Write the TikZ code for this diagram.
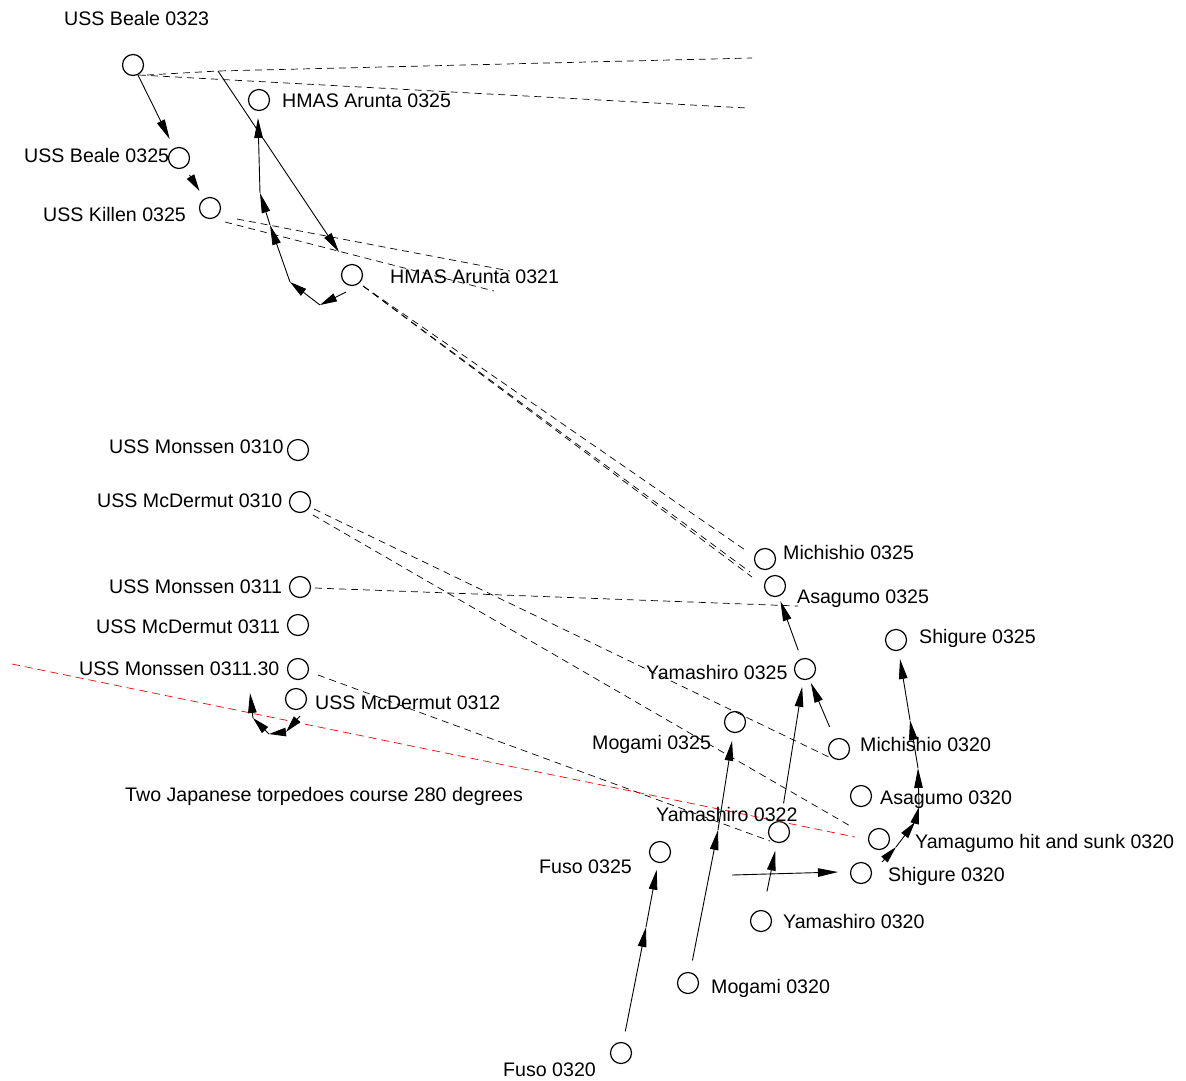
\documentclass[tikz,border=0pt]{standalone}
\usepackage{fontspec}
\setmainfont{Liberation Sans}
\usetikzlibrary{arrows.meta}
\tikzset{
  x=1pt,y=-1pt,
  ship/.style={circle,draw=black,line width=1.2pt,fill=none,minimum size=21pt,inner sep=0pt},
  lbl/.style={anchor=base west,inner sep=0pt,font=\fontsize{19.6pt}{22pt}\selectfont,text=black},
  track/.style={draw=black,line width=0.9pt,-{Triangle[length=20pt,width=8.5pt]}},
  shorttrack/.style={draw=black,line width=0.9pt,-{Triangle[length=17pt,width=8.5pt]}},
  fire/.style={draw=black,line width=0.7pt,dash pattern=on 7pt off 5pt},
  torp/.style={draw=red,line width=0.7pt,dash pattern=on 8pt off 5pt},
}
\begin{document}
\begin{tikzpicture}
\useasboundingbox (0,0) rectangle (1186,1080);
\fill[white] (0,0) rectangle (1186,1080);

% ship positions
\node[ship] (beale23) at (133,65) {};
\node[ship] (beale25) at (179,158) {};
\node[ship] (killen25) at (210,208) {};
\node[ship] (arunta25) at (259,100) {};
\node[ship] (arunta21) at (352,275) {};
\node[ship] (monssen10) at (298,450) {};
\node[ship] (mcdermut10) at (300,502) {};
\node[ship] (monssen11) at (300,587) {};
\node[ship] (mcdermut11) at (298,625) {};
\node[ship] (monssen1130) at (298,669) {};
\node[ship] (mcdermut12) at (296,699) {};
\node[ship] (michishio25) at (765,559) {};
\node[ship] (asagumo25) at (775,586) {};
\node[ship] (shigure25) at (896,640) {};
\node[ship] (yamashiro25) at (805,669) {};
\node[ship] (mogami25) at (735,722) {};
\node[ship] (michishio20) at (839,749) {};
\node[ship] (asagumo20) at (861,796) {};
\node[ship] (yamagumo) at (879,839) {};
\node[ship] (yamashiro22) at (779,832) {};
\node[ship] (fuso25) at (660,852) {};
\node[ship] (shigure20) at (861,873) {};
\node[ship] (yamashiro20) at (761,921) {};
\node[ship] (mogami20) at (688,983) {};
\node[ship] (fuso20) at (621,1053) {};

% free ends and course changes
\coordinate (bA0) at (139,75);
\coordinate (bA1) at (747,108);
\coordinate (bB0) at (147,75);
\coordinate (bJ) at (218,71);
\coordinate (bB1) at (752,58);
\coordinate (aEnd) at (339,252);
\coordinate (kA0) at (225,222);
\coordinate (kA1) at (494,291);
\coordinate (kB0) at (237,219);
\coordinate (kB1) at (510,271);
\coordinate (ar0) at (363,286);
\coordinate (ar1) at (748,552);
\coordinate (ar2) at (752,577);
\coordinate (ar4) at (750,572);
\coordinate (mc0) at (314,509);
\coordinate (mc1) at (833,759);
\coordinate (mc2) at (313,515);
\coordinate (mc3) at (852,827);
\coordinate (mo0) at (315,588);
\coordinate (mo1) at (798,606);
\coordinate (mo2) at (318,675);
\coordinate (mo3) at (770,841);
\coordinate (tor0) at (12,664);
\coordinate (tor1) at (855,837);
\coordinate (w1) at (346,292);
\coordinate (w2) at (320,305);
\coordinate (w3) at (290,282);
\coordinate (w4) at (270,225);
\coordinate (w5) at (260,193);
\coordinate (w6) at (258,118);
\coordinate (m1) at (718,830);
\coordinate (f1) at (646,927);
\coordinate (sp0) at (732,875);
\coordinate (sp1) at (838,872);
\coordinate (s1) at (882,862);
\coordinate (s2) at (896,847);
\coordinate (s2b) at (915,822);
\coordinate (s3) at (919,807);
\coordinate (s4) at (918,768);
\coordinate (s5) at (910,720);
\coordinate (s6) at (900,659);
\coordinate (d1) at (300,716);
\coordinate (d2) at (286,732);
\coordinate (d3) at (269,734);
\coordinate (d4) at (253,718);
\coordinate (d5) at (250,693);

% gunfire lines
\path[fire] (bA0) -- (bA1);
\path[fire] (bB0) -- (bJ) -- (bB1);
\path[fire] (kA0) -- (kA1);
\path[fire] (kB0) -- (kB1);
\path[fire] (ar0) -- (ar1);
\path[fire] (ar0) -- (ar2);
\path[fire] (ar0) -- (ar4);
\path[fire] (mc0) -- (mc1);
\path[fire] (mc2) -- (mc3);
\path[fire] (mo0) -- (mo1);
\path[fire] (mo2) -- (mo3);
\path[torp] (tor0) -- (tor1);

% ship tracks
\path[track,shorten <=11pt,shorten >=21pt] (beale23.center) -- (beale25.center);
\path[shorttrack,shorten <=20pt,shorten >=20pt] (beale25.center) -- (killen25.center);
\path[track] (bJ) -- (aEnd);
\path[shorttrack] (w1) -- (w2);
\path[shorttrack] (w2) -- (w3);
\path[track] (w3) -- (w4);
\path[track] (w4) -- (w5);
\path[track] (w5) -- (w6);
\path[track,shorten <=20pt,shorten >=16pt] (yamashiro25.center) -- (asagumo25.center);
\path[track,shorten <=24pt,shorten >=15pt] (michishio20.center) -- (yamashiro25.center);
\path[track,shorten <=29pt,shorten >=18pt] (yamashiro22.center) -- (yamashiro25.center);
\path[track,shorten <=30pt,shorten >=19pt] (yamashiro20.center) -- (yamashiro22.center);
\path[track,shorten <=23pt] (mogami20.center) -- (m1);
\path[track,shorten >=19pt] (m1) -- (mogami25.center);
\path[track,shorten <=22pt] (fuso20.center) -- (f1);
\path[track,shorten >=18pt] (f1) -- (fuso25.center);
\path[track] (sp0) -- (sp1);
\path[shorttrack] (s1) -- (s2);
\path[shorttrack] (s2) -- (s2b);
\path[shorttrack] (s2b) -- (s3);
\path[track] (s3) -- (s4);
\path[track] (s4) -- (s5);
\path[track] (s5) -- (s6);
\path[shorttrack] (d1) -- (d2);
\path[shorttrack] (d2) -- (d3);
\path[shorttrack] (d3) -- (d4);
\path[track] (d4) -- (d5);

% labels
\node[lbl] (tBeale23) at (64,25) {USS Beale 0323};
\node[lbl] (tBeale25) at (24,162) {USS Beale 0325};
\node[lbl] (tKillen) at (43,221) {USS Killen 0325};
\node[lbl] (tArunta25) at (282,107) {HMAS Arunta 0325};
\node[lbl] (tArunta21) at (390,283) {HMAS Arunta 0321};
\node[lbl] (tMonssen10) at (109,453) {USS Monssen 0310};
\node[lbl] (tMcD10) at (97,507) {USS McDermut 0310};
\node[lbl] (tMonssen11) at (109,593) {USS Monssen 0311};
\node[lbl] (tMcD11) at (96,633) {USS McDermut 0311};
\node[lbl] (tMonssen1130) at (79,675) {USS Monssen 0311.30};
\node[lbl] (tMcD12) at (315,709) {USS McDermut 0312};
\node[lbl] (tTorp) at (125,801) {Two Japanese torpedoes course 280 degrees};
\node[lbl] (tMichi25) at (783,559) {Michishio 0325};
\node[lbl] (tAsa25) at (797,603) {Asagumo 0325};
\node[lbl] (tShi25) at (919,643) {Shigure 0325};
\node[lbl] (tYam25) at (646,679) {Yamashiro 0325};
\node[lbl] (tMog25) at (592,749) {Mogami 0325};
\node[lbl] (tMichi20) at (860,751) {Michishio 0320};
\node[lbl] (tAsa20) at (880,804) {Asagumo 0320};
\node[lbl] (tYamagumo) at (915,848) {Yamagumo hit and sunk 0320};
\node[lbl] (tYam22) at (656,821) {Yamashiro 0322};
\node[lbl] (tFuso25) at (539,873) {Fuso 0325};
\node[lbl] (tShi20) at (888,881) {Shigure 0320};
\node[lbl] (tYam20) at (783,928) {Yamashiro 0320};
\node[lbl] (tMog20) at (711,993) {Mogami 0320};
\node[lbl] (tFuso20) at (503,1076) {Fuso 0320};
\end{tikzpicture}
\end{document}
